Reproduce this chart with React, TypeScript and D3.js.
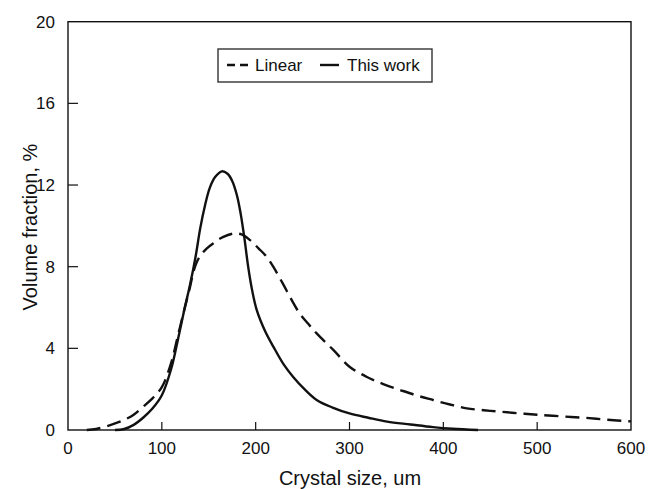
import React, { useEffect, useRef } from "react";
import * as d3 from "d3";

const xTicks = [0, 100, 200, 300, 400, 500, 600];
const yTicks = [0, 4, 8, 12, 16, 20];

const linearX = [20, 30, 45, 60, 70, 80, 90, 100, 110, 117, 124, 130, 134, 138, 143, 148, 155, 165, 176, 185, 194, 203, 212, 220, 229, 238, 247, 256, 265, 283, 300, 318, 336, 354, 371, 389, 407, 425, 443, 460, 480, 500, 525, 550, 575, 600];
const linearY = [0, 0.05, 0.24, 0.5, 0.75, 1.14, 1.55, 2.1, 3.3, 4.6, 5.9, 7.0, 7.8, 8.3, 8.65, 8.9, 9.15, 9.45, 9.62, 9.58, 9.3, 8.9, 8.47, 7.9, 7.17, 6.4, 5.7, 5.2, 4.73, 3.91, 3.1, 2.61, 2.25, 1.96, 1.7, 1.47, 1.25, 1.06, 0.97, 0.9, 0.82, 0.75, 0.67, 0.6, 0.5, 0.42];

const workX = [50, 60, 70, 80, 90, 100, 110, 117, 124, 130, 136, 141, 146, 151, 157, 164, 170, 175, 180, 184, 188, 192, 196, 201, 210, 219, 230, 240, 252, 265, 282, 300, 320, 340, 365, 389, 410, 437];
const workY = [0, 0.05, 0.25, 0.6, 1.05, 1.7, 3.0, 4.4, 5.9, 7.1, 8.5, 9.9, 11.0, 11.85, 12.4, 12.67, 12.55, 12.2, 11.5, 10.6, 9.4, 8.0, 6.9, 5.9, 4.85, 4.07, 3.2, 2.6, 2.0, 1.47, 1.1, 0.81, 0.6, 0.41, 0.27, 0.14, 0.06, 0];

const FONT = "'Liberation Sans', Arial, Helvetica, sans-serif";

export default function App() {
  const ref = useRef<SVGSVGElement>(null);
  useEffect(() => {
    const svg = d3.select(ref.current);
    svg.selectAll("*").remove();
    const left = 68, right = 631, top = 21.7, bottom = 430;
    const x = d3.scaleLinear().domain([0, 600]).range([left, right]);
    const y = d3.scaleLinear().domain([0, 20]).range([bottom, top]);
    const ink = "#111";

    svg.append("rect").attr("x", left).attr("y", top).attr("width", right - left).attr("height", bottom - top)
      .attr("fill", "none").attr("stroke", ink).attr("stroke-width", 1.4);

    const gx = svg.append("g");
    xTicks.forEach((t) => {
      if (t > 0 && t < 600) {
        gx.append("line").attr("x1", x(t)).attr("x2", x(t)).attr("y1", bottom).attr("y2", bottom - 8)
          .attr("stroke", ink).attr("stroke-width", 1.2);
      }
      gx.append("text").attr("x", x(t)).attr("y", 454).attr("text-anchor", "middle")
        .attr("font-family", FONT).attr("font-size", 17).attr("fill", ink).text(String(t));
    });
    const gy = svg.append("g");
    yTicks.forEach((t) => {
      if (t > 0 && t < 20) {
        gy.append("line").attr("x1", left).attr("x2", left + 10).attr("y1", y(t)).attr("y2", y(t))
          .attr("stroke", ink).attr("stroke-width", 1.2);
      }
      gy.append("text").attr("x", 55).attr("y", y(t) + 6).attr("text-anchor", "end")
        .attr("font-family", FONT).attr("font-size", 17).attr("fill", ink).text(String(t));
    });

    svg.append("text").attr("x", 350).attr("y", 485).attr("text-anchor", "middle")
      .attr("font-family", FONT).attr("font-size", 20).attr("fill", ink).text("Crystal size, um");
    svg.append("text").attr("transform", "translate(37,227) rotate(-90)").attr("text-anchor", "middle")
      .attr("font-family", FONT).attr("font-size", 20).attr("fill", ink).text("Volume fraction, %");

    const line = d3.line<[number, number]>().x((d) => x(d[0])).y((d) => y(d[1]))
      .curve(d3.curveCatmullRom.alpha(0.5));
    const linData = linearX.map((v, i) => [v, linearY[i]] as [number, number]);
    const workData = workX.map((v, i) => [v, workY[i]] as [number, number]);

    svg.append("path").attr("d", line(linData)).attr("fill", "none").attr("stroke", ink)
      .attr("stroke-width", 2.4).attr("stroke-dasharray", "14,7");
    svg.append("path").attr("d", line(workData)).attr("fill", "none").attr("stroke", ink)
      .attr("stroke-width", 2.4);

    const lg = svg.append("g");
    lg.append("rect").attr("x", 218).attr("y", 49).attr("width", 214).attr("height", 33)
      .attr("fill", "white").attr("stroke", "#333").attr("stroke-width", 1.4);
    lg.append("line").attr("x1", 227).attr("x2", 248).attr("y1", 65).attr("y2", 65)
      .attr("stroke", ink).attr("stroke-width", 2.4).attr("stroke-dasharray", "8,5");
    lg.append("text").attr("x", 255).attr("y", 71).attr("font-family", FONT).attr("font-size", 17)
      .attr("fill", ink).text("Linear");
    lg.append("line").attr("x1", 320).attr("x2", 339).attr("y1", 65).attr("y2", 65)
      .attr("stroke", ink).attr("stroke-width", 2.4);
    lg.append("text").attr("x", 347).attr("y", 71).attr("font-family", FONT).attr("font-size", 17)
      .attr("fill", ink).text("This work");
  }, []);
  return (
    <div style={{ position: "absolute", left: 0, top: 0 }}>
      <svg ref={ref} width={649} height={489} style={{ display: "block", background: "white" }} />
    </div>
  );
}
